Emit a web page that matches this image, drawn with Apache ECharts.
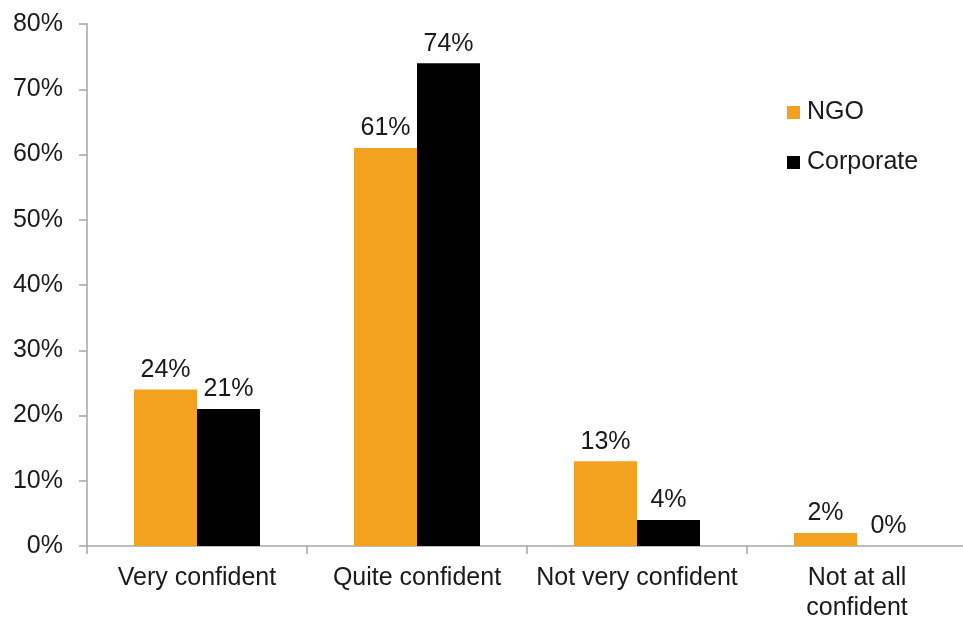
<!DOCTYPE html>
<html>
<head>
<meta charset="utf-8">
<script src="https://cdn.jsdelivr.net/npm/echarts@6/dist/echarts.min.js"></script>
<style>
  html, body { margin: 0; padding: 0; background: #fff; }
  #chart { width: 963px; height: 618px; }
</style>
</head>
<body>
<div id="chart"></div>
<script>
// Survey responses: share of respondents by confidence level
const categories = ['Very confident', 'Quite confident', 'Not very confident', 'Not at all\nconfident'];
const ngoValues = [24, 61, 13, 2];
const corporateValues = [21, 74, 4, 0];
const seriesNames = ['NGO', 'Corporate'];
const yTicks = [0, 10, 20, 30, 40, 50, 60, 70, 80];

const FONT = '"Liberation Sans", Arial, sans-serif';
const FONT_SIZE = 25;
const TEXT_COLOR = '#1a1a1a';
const AXIS_COLOR = '#a6a6a6';

const chart = echarts.init(document.getElementById('chart'), null, { renderer: 'canvas' });

const labelStyle = {
  show: true,
  position: 'top',
  distance: 7,
  formatter: p => p.value + '%',
  color: TEXT_COLOR,
  fontFamily: FONT,
  fontSize: FONT_SIZE
};

chart.setOption({
  animation: false,
  textStyle: { fontFamily: FONT },
  grid: {
    left: 87, top: 24, width: 880, bottom: 72,
    containLabel: false,
    outerBoundsMode: 'none'
  },
  legend: {
    orient: 'vertical',
    left: 787,
    top: 100,
    padding: 0,
    itemWidth: 13,
    itemHeight: 13,
    itemGap: 25,
    icon: 'rect',
    data: seriesNames,
    textStyle: { fontFamily: FONT, fontSize: FONT_SIZE, color: TEXT_COLOR, padding: [0, 0, 0, 2] }
  },
  xAxis: {
    type: 'category',
    data: categories,
    axisLine: { lineStyle: { color: AXIS_COLOR, width: 1.5 } },
    axisTick: { show: true, length: 8, alignWithLabel: false, lineStyle: { color: AXIS_COLOR, width: 1.5 } },
    axisLabel: {
      interval: 0,
      margin: 17,
      color: TEXT_COLOR,
      fontFamily: FONT,
      fontSize: FONT_SIZE,
      lineHeight: 30
    }
  },
  yAxis: {
    type: 'value',
    min: yTicks[0],
    max: yTicks[yTicks.length - 1],
    interval: 10,
    splitLine: { show: false },
    axisLine: { show: true, lineStyle: { color: AXIS_COLOR, width: 1.5 } },
    axisTick: { show: true, length: 8, lineStyle: { color: AXIS_COLOR, width: 1.5 } },
    axisLabel: {
      margin: 24,
      formatter: v => v + '%',
      color: TEXT_COLOR,
      fontFamily: FONT,
      fontSize: FONT_SIZE
    }
  },
  series: [
    {
      name: seriesNames[0],
      type: 'bar',
      data: ngoValues,
      barWidth: 63,
      barGap: '0%',
      itemStyle: { color: '#f2a21e' },
      label: labelStyle
    },
    {
      name: seriesNames[1],
      type: 'bar',
      data: corporateValues,
      barWidth: 63,
      barGap: '0%',
      itemStyle: { color: '#000000' },
      label: labelStyle
    }
  ]
});
</script>
</body>
</html>
